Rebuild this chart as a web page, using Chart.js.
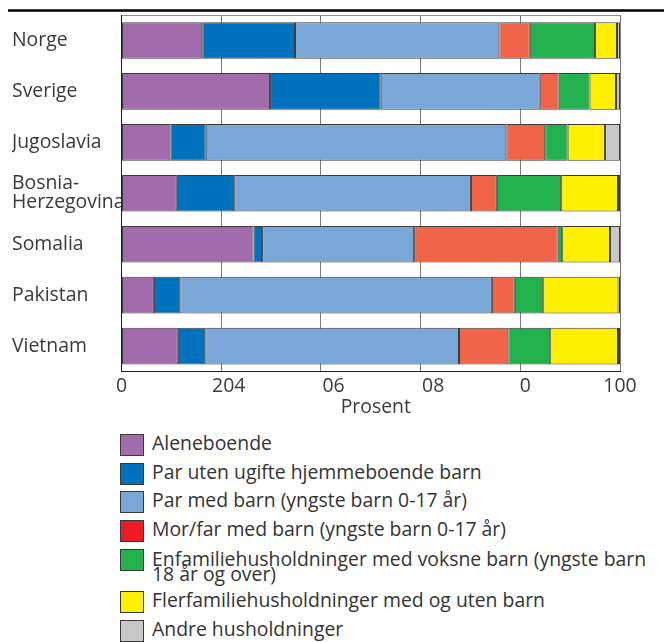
<!DOCTYPE html>
<html>
<head>
<meta charset="utf-8">
<script src="https://cdn.jsdelivr.net/npm/chart.js@4.4.1/dist/chart.umd.min.js"></script>
<style>
  html, body { margin: 0; padding: 0; background: #ffffff; }
  body { width: 664px; height: 642px; overflow: hidden; position: relative; font-family: "Open Sans", sans-serif; }
  #c { position: absolute; left: 0; top: 0; }
  #legend { position: absolute; left: 120px; top: 434px; }
  .row { position: relative; height: 28.7px; }
  .box { position: absolute; left: 0; top: 0; width: 24px; height: 22px; box-sizing: border-box; border: 1px solid #3a3a3a; }
  .txt { position: absolute; left: 32px; top: 0; font-size: 19.4px; line-height: 18.7px; color: #333333; white-space: pre; }
  .txt.multi { line-height: 15px; padding-top: 1.8px; }
</style>
</head>
<body>
<canvas id="c" width="664" height="413"></canvas>
<div id="legend"></div>
<script>
// ---- Data ----
const categories = ['Norge', 'Sverige', 'Jugoslavia', ['Bosnia-', 'Herzegovina'], 'Somalia', 'Pakistan', 'Vietnam'];
const seriesNames = [
  'Aleneboende',
  'Par uten ugifte hjemmeboende barn',
  'Par med barn (yngste barn 0-17 år)',
  'Mor/far med barn (yngste barn 0-17 år)',
  'Enfamiliehusholdninger med voksne barn (yngste barn\n18 år og over)',
  'Flerfamiliehusholdninger med og uten barn',
  'Andre husholdninger'
];
const aleneboende      = [16.2, 29.8,  9.8, 11.1, 26.5,  6.5, 11.3];
const parUtenBarn      = [18.6, 22.2,  7.1, 11.5,  1.7,  5.3,  5.5];
const parMedBarn       = [41.0, 31.9, 60.3, 47.5, 30.5, 62.5, 50.9];
const morFarMedBarn    = [ 6.1,  3.8,  7.8,  5.2, 28.8,  4.6,  9.9];
const enfamilieVoksne  = [13.1,  6.2,  4.5, 12.9,  0.9,  5.7,  8.4];
const flerfamilie      = [ 4.4,  5.3,  7.5, 11.4,  9.6, 15.1, 13.6];
const andre            = [ 0.6,  0.8,  3.0,  0.4,  2.0,  0.3,  0.4];
const xTickLabels = ['0', '204', '06', '08', '0', '100'];
const xTitle = 'Prosent';

// ---- Styles ----
const barColors    = ['#A26BAB', '#0071BC', '#7BA7D8', '#F06549', '#22B14C', '#FFF000', '#C8C8C8'];
const legendColors = ['#A26BAB', '#0071BC', '#7BA7D8', '#ED1C24', '#22B14C', '#FFF000', '#C8C8C8'];
const tickShift = [0, 3, 5, 5, 2, 0];
const seriesValues = [aleneboende, parUtenBarn, parMedBarn, morFarMedBarn, enfamilieVoksne, flerfamilie, andre];
const textColor = '#3a3a3a';
const fontFamily = '"Open Sans", sans-serif';
const fontSize = 19.4;

const topRule = {
  id: 'topRule',
  afterDraw(chart) {
    const ctx = chart.ctx;
    ctx.save();
    ctx.strokeStyle = '#000';
    ctx.lineWidth = 2.5;
    ctx.beginPath();
    ctx.moveTo(8, 10.5);
    ctx.lineTo(664, 10.5);
    ctx.stroke();
    ctx.restore();
  }
};

new Chart(document.getElementById('c'), {
  type: 'bar',
  data: {
    labels: categories,
    datasets: seriesNames.map((name, i) => ({
      label: name,
      data: seriesValues[i],
      backgroundColor: barColors[i],
      borderColor: '#3c3c3c',
      borderWidth: 1,
      borderSkipped: false,
      barPercentage: 0.72,
      categoryPercentage: 1.0
    }))
  },
  options: {
    indexAxis: 'y',
    responsive: false,
    animation: false,
    devicePixelRatio: 1,
    layout: { padding: { top: 15, left: 12, right: 44, bottom: 0 } },
    plugins: {
      legend: { display: false },
      tooltip: { enabled: false }
    },
    scales: {
      x: {
        stacked: true,
        min: 0,
        max: 100,
        ticks: {
          stepSize: 20,
          color: textColor,
          font: { family: fontFamily, size: fontSize, lineHeight: 1.0 },
          padding: 5.1,
          maxRotation: 0,
          callback: (v, i) => ' '.repeat(tickShift[i] || 0) + xTickLabels[i]
        },
        grid: { color: '#7a7a7a', lineWidth: 1, drawTicks: false },
        border: { display: true, color: '#222', width: 1 },
        title: {
          display: true,
          text: '  ' + xTitle,
          color: textColor,
          font: { family: fontFamily, size: fontSize, lineHeight: 0.61 },
          padding: { top: 0, bottom: 0 }
        }
      },
      y: {
        stacked: true,
        ticks: {
          color: textColor,
          font: { family: fontFamily, size: fontSize, lineHeight: 0.97 },
          crossAlign: 'far',
          padding: 0
        },
        grid: {
          drawTicks: false,
          color: (ctx) => ctx.index === 0 ? '#8a8a8a' : 'rgba(0,0,0,0)',
          lineWidth: 1
        },
        border: { display: true, color: '#222', width: 1 },
        afterFit: (scale) => { scale.width = 109.5; }
      }
    }
  },
  plugins: [topRule]
});

// ---- Legend (HTML, built from the series arrays) ----
const legend = document.getElementById('legend');
seriesNames.forEach((name, i) => {
  const lines = name.split('\n').length;
  const row = document.createElement('div');
  row.className = 'row';
  row.style.height = (28.7 + (lines - 1) * 13.7) + 'px';
  const box = document.createElement('div');
  box.className = 'box';
  box.style.background = legendColors[i];
  const txt = document.createElement('div');
  txt.className = 'txt' + (lines > 1 ? ' multi' : '');
  txt.textContent = name;
  row.appendChild(box);
  row.appendChild(txt);
  legend.appendChild(row);
});
</script>
</body>
</html>
